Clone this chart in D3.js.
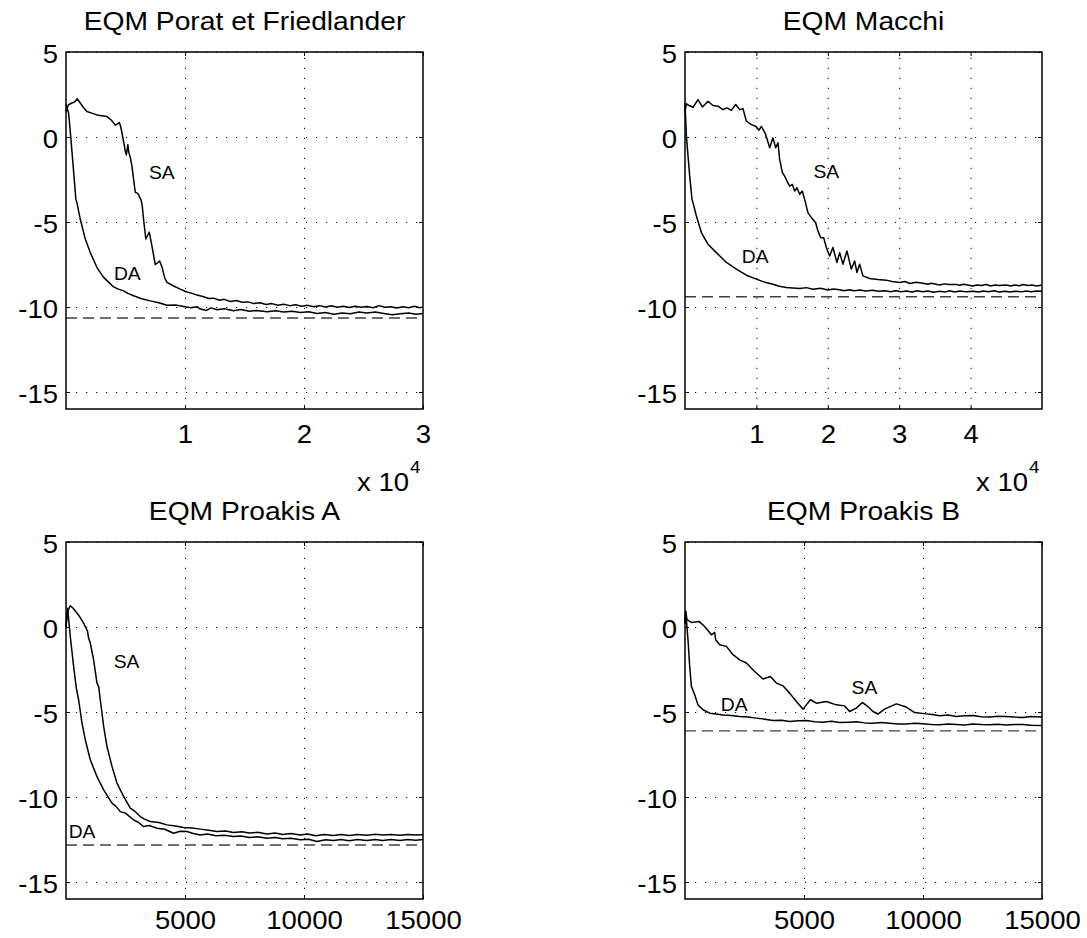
<!DOCTYPE html>
<html>
<head>
<meta charset="utf-8">
<script src="https://cdn.jsdelivr.net/npm/d3@7"></script>
<style>
  body { margin: 0; background: #fff; }
  svg { display: block; }
  text { font-family: "Liberation Sans", Arial, Helvetica, sans-serif; fill: #000; }
</style>
</head>
<body>
<svg id="chart" width="1087" height="938"></svg>
<script>
// ---- data (x in iterations, y in dB) ----
const titles = ["EQM Porat et Friedlander", "EQM Macchi", "EQM Proakis A", "EQM Proakis B"];
const yTicks = [5, 0, -5, -10, -15];
const xMaxes = [30000, 50000, 15000, 15000];
const xTicks = [[10000, 20000, 30000], [10000, 20000, 30000, 40000], [5000, 10000, 15000], [5000, 10000, 15000]];
const xTickLabels = [["1", "2", "3"], ["1", "2", "3", "4"], ["5000", "10000", "15000"], ["5000", "10000", "15000"]];
const floorLevels = [-10.65, -9.4, -12.82, -6.11];

const poratSA = [[0,1.5],[200,1.9],[500,2.0],[700,2.05],[950,2.25],[1200,2.0],[1500,1.7],[1760,1.5],[2100,1.42],[2600,1.3],[3000,1.25],[3445,1.2],[3800,1.0],[4140,0.7],[4480,0.85],[4600,0.6],[4700,0.25],[4900,-0.5],[5000,-0.9],[5070,-1.05],[5150,-0.7],[5200,-0.45],[5290,-0.95],[5400,-1.2],[5540,-1.7],[5700,-2.6],[5820,-3.25],[6000,-3.3],[6100,-3.4],[6300,-3.7],[6400,-4.0],[6520,-4.85],[6710,-6.0],[7000,-5.6],[7220,-6.4],[7500,-7.5],[7700,-7.4],[7870,-7.3],[8070,-7.65],[8300,-8.3],[8490,-8.55],[9000,-8.75],[9600,-8.95],[10100,-9.1],[10600,-9.2],[11000,-9.3],[11500,-9.38],[12000,-9.5],[12400,-9.48],[12900,-9.6],[13300,-9.55],[13800,-9.68],[14300,-9.62],[14800,-9.72],[15300,-9.7],[15800,-9.8],[16300,-9.75],[16800,-9.85],[17300,-9.8],[17800,-9.9],[18300,-9.84],[18800,-9.92],[19300,-9.87],[19800,-9.96],[20300,-9.9],[20800,-9.98],[21300,-9.92],[21800,-10.0],[22300,-9.93],[22800,-10.02],[23300,-9.96],[23800,-10.03],[24300,-9.95],[24800,-10.02],[25300,-9.97],[25800,-10.04],[26300,-9.92],[26800,-10.02],[27300,-9.98],[27800,-10.06],[28300,-9.98],[28800,-10.05],[29300,-9.96],[29700,-10.04],[30000,-10.0]];
const poratDA = [[0,1.9],[100,1.7],[220,1.4],[400,0],[600,-1.7],[830,-3.67],[920,-3.86],[1200,-4.84],[1620,-6.0],[2040,-6.8],[2600,-7.68],[3160,-8.26],[3600,-8.55],[4000,-8.82],[4400,-8.95],[4840,-9.05],[5200,-9.2],[5680,-9.34],[6300,-9.5],[7080,-9.64],[7800,-9.75],[8490,-9.9],[9200,-9.88],[9880,-9.97],[10500,-10.05],[11000,-9.98],[11290,-10.12],[11800,-10.2],[12200,-10.05],[12690,-10.16],[13300,-10.1],[14090,-10.22],[14700,-10.15],[15400,-10.25],[16000,-10.2],[16890,-10.28],[17600,-10.22],[18300,-10.3],[19000,-10.25],[19700,-10.32],[20400,-10.28],[21100,-10.38],[21800,-10.33],[22490,-10.42],[23200,-10.35],[23900,-10.4],[24600,-10.3],[25290,-10.35],[26000,-10.3],[26700,-10.38],[27400,-10.45],[28090,-10.4],[28800,-10.35],[29400,-10.42],[30000,-10.38]];

const macchiSA = [[0,1.5],[196,1.95],[600,1.85],[1120,1.75],[1820,2.2],[2436,1.77],[3220,2.1],[3920,1.85],[4620,1.81],[5320,1.61],[5880,1.71],[6496,1.57],[7098,1.91],[7658,1.61],[8120,1.67],[8596,0.93],[9296,0.73],[9898,0.63],[10360,0.4],[10696,0.63],[11298,0.15],[11858,-0.63],[12320,-0.05],[12698,-0.63],[13020,-0.34],[13258,-1.32],[13636,-2.1],[13958,-2.3],[14280,-2.59],[14658,-2.89],[15036,-2.79],[15358,-3.18],[15680,-2.98],[16058,-3.37],[16436,-3.18],[16758,-3.67],[17220,-4.45],[17696,-4.74],[18298,-5.04],[18620,-5.53],[18998,-5.92],[19418,-5.92],[19796,-6.5],[20258,-7.0],[20720,-6.5],[21280,-7.38],[21658,-6.8],[22120,-7.48],[22680,-6.7],[23296,-7.77],[23758,-7.29],[24080,-7.97],[24458,-7.48],[24920,-8.17],[25858,-8.32],[27000,-8.38],[28196,-8.42],[29000,-8.5],[30058,-8.56],[30800,-8.5],[31500,-8.62],[32400,-8.55],[33320,-8.6],[34000,-8.66],[34500,-8.6],[35658,-8.71],[36300,-8.64],[37000,-8.68],[37996,-8.67],[38500,-8.72],[39000,-8.66],[40320,-8.76],[40900,-8.7],[41500,-8.74],[42200,-8.68],[42800,-8.76],[43400,-8.7],[44000,-8.74],[45000,-8.71],[45600,-8.76],[46200,-8.7],[46800,-8.75],[47400,-8.68],[48000,-8.74],[48600,-8.7],[49300,-8.76],[50000,-8.71]];
const macchiDA = [[0,2.0],[100,1.0],[196,0.05],[658,-2.3],[980,-3.67],[1120,-3.86],[1596,-4.65],[2296,-5.62],[3220,-6.31],[4396,-6.8],[5796,-7.38],[7196,-7.77],[8596,-8.13],[9996,-8.36],[11200,-8.55],[12320,-8.66],[13200,-8.78],[14196,-8.85],[15100,-8.88],[16058,-8.91],[17000,-8.86],[17920,-8.95],[19000,-8.9],[20000,-9.0],[20800,-8.94],[21658,-8.99],[22300,-9.04],[23000,-8.98],[23700,-9.05],[24500,-9.0],[25300,-9.06],[26320,-9.02],[27100,-9.08],[28000,-9.04],[28800,-9.1],[29500,-9.04],[30300,-9.1],[30996,-9.06],[31800,-9.12],[32500,-9.05],[33300,-9.1],[34000,-9.06],[34800,-9.13],[35658,-9.08],[36400,-9.12],[37000,-9.05],[37800,-9.12],[38500,-9.06],[39400,-9.11],[40320,-9.07],[41100,-9.12],[41800,-9.06],[42500,-9.1],[43300,-9.05],[44000,-9.12],[44800,-9.08],[45500,-9.12],[46300,-9.07],[47100,-9.11],[47800,-9.06],[48500,-9.1],[49300,-9.06],[50000,-9.08]];

const proakisASA = [[0,0.0],[60,0.9],[180,1.25],[300,1.1],[462,0.82],[600,0.55],[740,0.23],[908,-0.26],[930,-0.5],[950,-0.65],[1020,-0.94],[1160,-1.93],[1302,-3.3],[1372,-3.5],[1440,-4.28],[1582,-5.85],[1722,-7.03],[1932,-8.2],[2142,-9.18],[2420,-9.97],[2700,-10.66],[2900,-10.85],[3120,-11.15],[3300,-11.3],[3540,-11.44],[3900,-11.5],[4242,-11.64],[4600,-11.7],[4940,-11.8],[5300,-11.82],[5640,-11.89],[6000,-11.95],[6340,-12.03],[6700,-12.0],[7040,-12.09],[7400,-12.05],[7700,-12.12],[8050,-12.08],[8442,-12.17],[8800,-12.12],[9100,-12.2],[9450,-12.15],[9840,-12.23],[10150,-12.18],[10500,-12.28],[10850,-12.2],[11240,-12.27],[11550,-12.2],[11900,-12.26],[12250,-12.2],[12640,-12.25],[13000,-12.19],[13300,-12.24],[13650,-12.2],[14040,-12.25],[14350,-12.2],[14700,-12.24],[15000,-12.22]];
const proakisADA = [[0,0.0],[70,1.1],[180,-0.56],[320,-2.32],[433,-3.59],[530,-4.28],[672,-5.65],[810,-6.63],[1020,-7.81],[1302,-8.8],[1582,-9.58],[1932,-10.36],[2100,-10.55],[2280,-10.86],[2500,-10.95],[2840,-11.35],[3050,-11.5],[3260,-11.74],[3500,-11.68],[3822,-11.84],[4150,-11.9],[4520,-12.13],[4800,-12.02],[5082,-12.03],[5350,-12.15],[5640,-12.23],[5950,-12.18],[6300,-12.28],[6650,-12.25],[7040,-12.33],[7350,-12.3],[7700,-12.38],[8050,-12.34],[8442,-12.42],[8800,-12.38],[9100,-12.45],[9450,-12.42],[9840,-12.52],[10200,-12.48],[10542,-12.62],[10900,-12.52],[11240,-12.56],[11550,-12.5],[11900,-12.57],[12250,-12.5],[12640,-12.56],[13000,-12.5],[13300,-12.56],[13650,-12.5],[14040,-12.56],[14350,-12.5],[14700,-12.55],[15000,-12.5]];

const proakisBSA = [[0,0.2],[30,0.92],[84,0.43],[269,0.27],[588,0.33],[827,0.03],[1109,-0.46],[1247,-0.32],[1289,-0.75],[1457,-1.04],[1739,-1.14],[2016,-1.63],[2297,-1.93],[2579,-2.12],[2927,-2.62],[3276,-3.06],[3587,-2.91],[3839,-3.3],[4116,-3.46],[4397,-3.89],[4679,-4.38],[4956,-4.83],[5099,-4.58],[5267,-4.28],[5519,-4.48],[5939,-4.38],[6359,-4.58],[6708,-4.64],[6917,-4.97],[7199,-4.77],[7451,-4.44],[7686,-4.68],[7896,-4.97],[8106,-5.12],[8387,-4.83],[8879,-4.52],[9299,-4.71],[9647,-5.03],[10139,-5.11],[10400,-5.15],[10697,-5.22],[11050,-5.18],[11399,-5.26],[11750,-5.22],[12096,-5.2],[12450,-5.28],[12797,-5.3],[13150,-5.25],[13499,-5.26],[13850,-5.3],[14196,-5.32],[14550,-5.27],[15000,-5.3]];
const proakisBDA = [[0,0.2],[30,0.92],[126,-0.75],[197,-2.32],[269,-3.5],[330,-3.7],[407,-3.99],[546,-4.58],[756,-4.87],[1037,-5.07],[1300,-5.12],[1596,-5.17],[1950,-5.2],[2297,-5.26],[2650,-5.3],[2999,-5.36],[3350,-5.42],[3696,-5.5],[4050,-5.48],[4397,-5.56],[4750,-5.52],[5099,-5.5],[5450,-5.57],[5796,-5.6],[6150,-5.55],[6497,-5.62],[6850,-5.6],[7199,-5.58],[7550,-5.64],[7896,-5.66],[8250,-5.62],[8598,-5.66],[8950,-5.7],[9299,-5.71],[9650,-5.66],[9996,-5.69],[10350,-5.73],[10697,-5.75],[11050,-5.7],[11399,-5.73],[11750,-5.76],[12096,-5.71],[12450,-5.74],[12797,-5.75],[13150,-5.72],[13499,-5.77],[13850,-5.74],[14196,-5.73],[14550,-5.78],[15000,-5.79]];

const saSeries = [poratSA, macchiSA, proakisASA, proakisBSA];
const daSeries = [poratDA, macchiDA, proakisADA, proakisBDA];

// ---- layout ----
const boxes = [
  {x: 66, y: 52, w: 357, h: 357},
  {x: 685, y: 52, w: 357, h: 357},
  {x: 66, y: 542, w: 357, h: 357},
  {x: 685, y: 542, w: 357, h: 357}
];
// where the SA / DA words sit, in data units of each panel
const saLabelAt = [[8050, -2.49], [19800, -2.44], [2541, -2.42], [7539, -3.93]];
const daLabelAt = [[5150, -8.42], [9830, -7.44], [672, -12.42], [2066, -4.97]];
const labelPad = [16.5, 16.5, 12, 12];

const fontTick = 25, fontTitle = 25, fontNote = 18;
const tickStretch = 1.1, titleStretch = 1.13, noteStretch = 1.07;

const svg = d3.select("#chart");

boxes.forEach(function(b, i) {
  const g = svg.append("g").attr("transform", "translate(" + b.x + "," + b.y + ")");
  const x = d3.scaleLinear().domain([0, xMaxes[i]]).range([0, b.w]);
  const y = d3.scaleLinear().domain([-16, 5]).range([b.h, 0]);

  // dotted grid
  g.append("g")
    .attr("class", "grid")
    .attr("transform", "translate(0," + b.h + ")")
    .call(d3.axisBottom(x).tickValues(xTicks[i].filter(d => d < xMaxes[i])).tickSize(-b.h).tickFormat(""))
    .call(s => s.select(".domain").remove());
  g.append("g")
    .attr("class", "grid")
    .call(d3.axisLeft(y).tickValues(yTicks).tickSize(-b.w).tickFormat(""))
    .call(s => s.select(".domain").remove());
  g.selectAll(".grid line")
    .attr("stroke", "#000")
    .attr("stroke-width", 1)
    .attr("stroke-dasharray", "1.2,8.8");

  // dashed floor
  g.append("line")
    .attr("x1", 0).attr("x2", b.w)
    .attr("y1", y(floorLevels[i])).attr("y2", y(floorLevels[i]))
    .attr("stroke", "#404040")
    .attr("stroke-width", 1.4)
    .attr("stroke-dasharray", "11,6");

  // curves
  const line = d3.line().x(d => x(d[0])).y(d => y(d[1]));
  [daSeries[i], saSeries[i]].forEach(function(s) {
    g.append("path")
      .datum(s)
      .attr("d", line)
      .attr("fill", "none")
      .attr("stroke", "#000")
      .attr("stroke-width", 1.5)
      .attr("stroke-linejoin", "round");
  });

  // curve labels
  g.append("text")
    .attr("transform", "translate(" + x(saLabelAt[i][0]) + "," + y(saLabelAt[i][1]) + ") scale(" + noteStretch + ",1)")
    .attr("text-anchor", "middle")
    .attr("font-size", fontNote)
    .text("SA");
  g.append("text")
    .attr("transform", "translate(" + x(daLabelAt[i][0]) + "," + y(daLabelAt[i][1]) + ") scale(" + noteStretch + ",1)")
    .attr("text-anchor", "middle")
    .attr("font-size", fontNote)
    .text("DA");

  // axes with inward ticks
  const xb = g.append("g")
    .attr("transform", "translate(0," + b.h + ")")
    .call(d3.axisBottom(x).tickValues(xTicks[i]).tickFormat((d, k) => xTickLabels[i][k])
      .tickSizeInner(-4).tickSizeOuter(0).tickPadding(labelPad[i]));
  g.append("g")
    .call(d3.axisTop(x).tickValues(xTicks[i]).tickFormat("").tickSizeInner(-4).tickSizeOuter(0));
  const yl = g.append("g")
    .call(d3.axisLeft(y).tickValues(yTicks).tickFormat(d => String(d))
      .tickSizeInner(-4).tickSizeOuter(0).tickPadding(7.3));
  g.append("g")
    .attr("transform", "translate(" + b.w + ",0)")
    .call(d3.axisRight(y).tickValues(yTicks).tickFormat("").tickSizeInner(-4).tickSizeOuter(0));

  g.selectAll(".domain").remove();
  g.selectAll(".tick line").filter(function() { return !this.parentNode.parentNode.classList.contains("grid"); })
    .attr("stroke", "#000").attr("stroke-width", 1);
  xb.selectAll("text")
    .attr("font-size", fontTick)
    .attr("font-family", "Liberation Sans, Arial, sans-serif")
    .attr("transform", "scale(" + tickStretch + ",1)");
  yl.selectAll("text")
    .attr("font-size", fontTick)
    .attr("font-family", "Liberation Sans, Arial, sans-serif")
    .attr("dy", "0.4em")
    .attr("transform", "scale(" + tickStretch + ",1)");

  // box
  g.append("rect")
    .attr("width", b.w).attr("height", b.h)
    .attr("fill", "none")
    .attr("stroke", "#000")
    .attr("stroke-width", 1.5);

  // title
  g.append("text")
    .attr("transform", "translate(" + (b.w / 2) + ",-22) scale(" + titleStretch + ",1)")
    .attr("text-anchor", "middle")
    .attr("font-size", fontTitle)
    .text(titles[i]);

  // exponent note on the 1e4 axes
  if (i < 2) {
    g.append("text")
      .attr("transform", "translate(" + (b.w - 14) + "," + (b.h + 82) + ") scale(" + tickStretch + ",1)")
      .attr("text-anchor", "end")
      .attr("font-size", fontTick)
      .text("x 10");
    g.append("text")
      .attr("transform", "translate(" + (b.w - 13) + "," + (b.h + 64) + ") scale(" + tickStretch + ",1)")
      .attr("font-size", 17)
      .text("4");
  }
});
</script>
</body>
</html>
